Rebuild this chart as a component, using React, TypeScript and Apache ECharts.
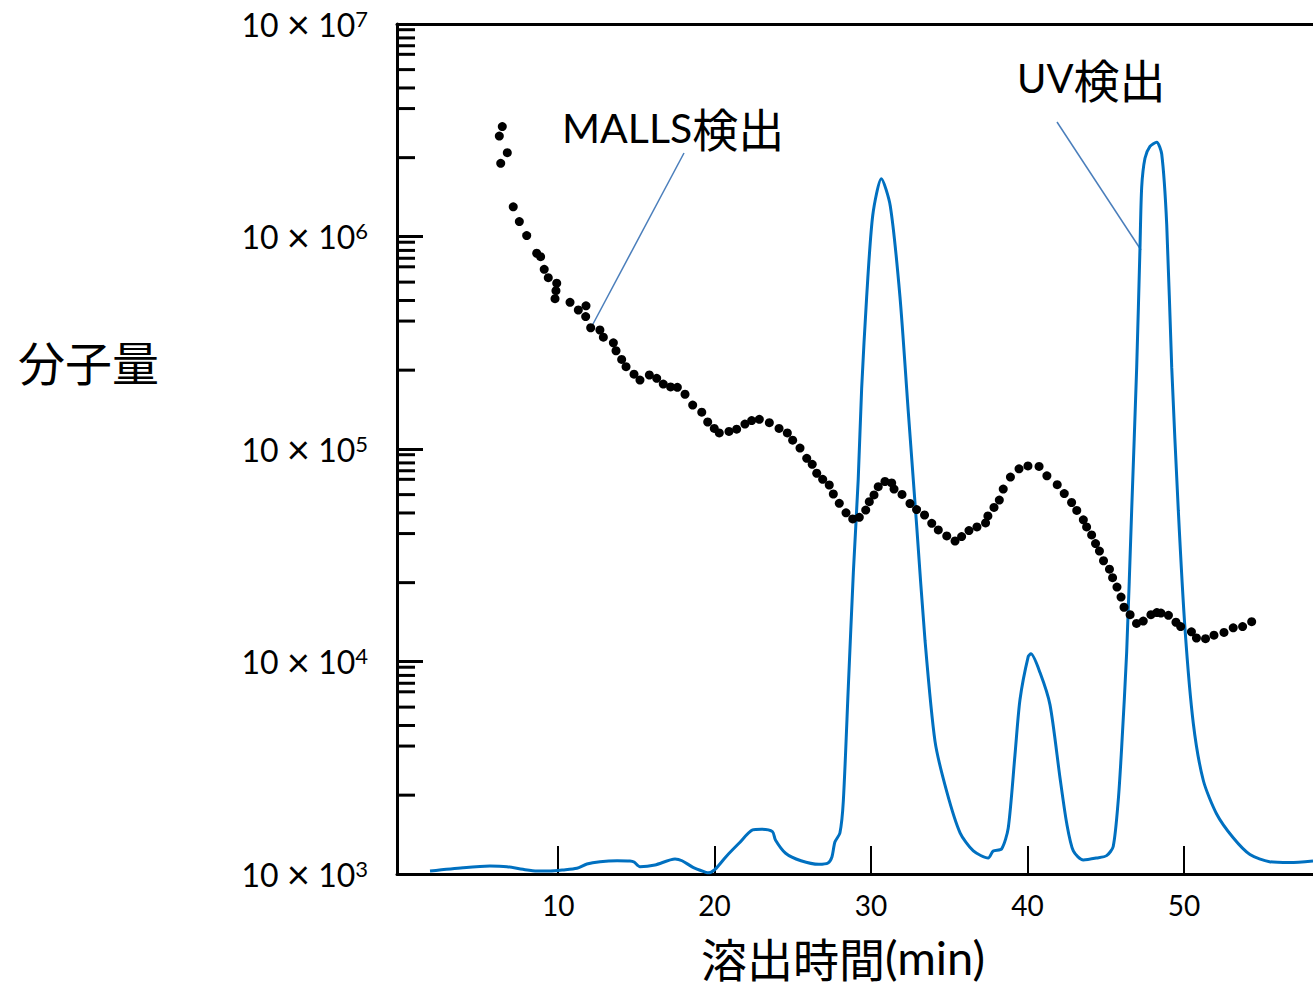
import React, { useEffect, useRef } from "react";
import * as echarts from "echarts";

// MALLS detection: elution time (min) and molecular weight
const mallsTime = [
  6.24, 6.33, 6.43, 6.75, 7.13, 7.52, 7.99, 8.63, 8.88, 9.11, 9.37, 9.8, 9.86, 9.91, 10.76, 11.29, 11.78, 11.76,
  12.08, 12.67, 12.89, 13.53, 13.7, 14.06, 14.34, 14.85, 15.23, 15.83, 16.3, 16.72, 17.19, 17.62, 18.11, 18.6,
  19.18, 19.56, 19.98, 20.3, 20.92, 21.41, 21.94, 22.37, 22.86, 23.5, 24.12, 24.65, 24.99, 25.46, 25.89, 26.24,
  26.53, 26.91, 27.33, 27.59, 27.97, 28.4, 28.83, 29.25, 29.66, 29.89, 30.19, 30.46, 30.89, 31.32, 31.47, 31.98,
  32.49, 32.91, 33.42, 33.88, 34.3, 34.84, 35.37, 35.79, 36.26, 36.77, 37.32, 37.47, 37.86, 38.2, 38.45, 38.91,
  39.46, 40.03, 40.74, 41.24, 41.9, 42.35, 42.82, 43.15, 43.57, 43.78, 44.1, 44.35, 44.6, 44.86, 45.24, 45.44,
  45.72, 45.98, 46.17, 46.56, 46.97, 47.4, 47.89, 48.27, 48.53, 49.01, 49.49, 49.79, 50.48, 50.8, 51.38, 51.92,
  52.56, 53.15, 53.75, 54.33,
];
const mallsMw = [
  2.97e6, 2.21e6, 3.29e6, 2.48e6, 1.38e6, 1.175e6, 1.01e6, 8.34e5, 8.04e5, 7.01e5, 6.4e5, 5.1e5, 5.56e5, 6.03e5,
  4.9e5, 4.51e5, 4.72e5, 4.2e5, 3.72e5, 3.63e5, 3.36e5, 3.16e5, 2.9e5, 2.64e5, 2.44e5, 2.25e5, 2.11e5, 2.23e5,
  2.15e5, 2.02e5, 1.96e5, 1.95e5, 1.81e5, 1.61e5, 1.49e5, 1.34e5, 1.25e5, 1.19e5, 1.21e5, 1.24e5, 1.31e5, 1.36e5,
  1.38e5, 1.33e5, 1.25e5, 1.19e5, 1.1e5, 1.01e5, 9.04e4, 8.47e4, 7.69e4, 7.2e4, 6.77e4, 6.14e4, 5.55e4, 5.01e4,
  4.69e4, 4.77e4, 5.16e4, 5.65e4, 6.08e4, 6.65e4, 7.03e4, 6.92e4, 6.48e4, 6.11e4, 5.54e4, 5.19e4, 4.89e4, 4.47e4,
  4.16e4, 3.9e4, 3.69e4, 3.87e4, 4.13e4, 4.3e4, 4.49e4, 4.84e4, 5.31e4, 5.75e4, 6.48e4, 7.38e4, 8.07e4, 8.32e4,
  8.28e4, 7.48e4, 6.79e4, 6.17e4, 5.6e4, 5.14e4, 4.64e4, 4.3e4, 3.94e4, 3.59e4, 3.31e4, 2.98e4, 2.72e4, 2.48e4,
  2.24e4, 2.01e4, 1.8e4, 1.66e4, 1.51e4, 1.55e4, 1.66e4, 1.7e4, 1.69e4, 1.65e4, 1.53e4, 1.46e4, 1.38e4, 1.29e4,
  1.28e4, 1.33e4, 1.37e4, 1.44e4, 1.46e4, 1.54e4,
];

// UV detection: elution time (min) and relative signal (0-100)
const uvTime = [
  1.81, 3.92, 5.64, 6.73, 7.75, 8.65, 9.48, 10.31, 11.2, 11.84, 12.68, 13.77, 14.59, 14.85, 15.23, 16.19, 17.47,
  17.92, 18.62, 19.45, 19.58, 20.03, 20.73, 21.56, 22.43, 22.99, 23.7, 23.89, 24.54, 25.52, 26.67, 27.25, 27.5,
  27.69, 28.01, 28.23, 28.55, 28.87, 29.18, 29.4, 29.72, 30.11, 30.66, 31.23, 31.85, 32.38, 32.92, 33.45, 34.09,
  34.84, 35.69, 36.54, 37.49, 37.81, 38.35, 38.77, 39.2, 39.52, 40.05, 40.22, 40.8, 41.44, 42.08, 42.51, 42.93,
  43.57, 44.42, 45.06, 45.48, 45.8, 46.02, 46.34, 46.66, 46.98, 47.19, 47.3, 47.51, 47.83, 48.26, 48.58, 48.9,
  49.22, 49.64, 50.07, 50.6, 51.24, 52.09, 53.15, 54.22, 55.47, 56.78, 58.25,
];
const uvSignal = [
  0.35, 0.74, 0.94, 0.86, 0.55, 0.35, 0.35, 0.47, 0.67, 1.18, 1.45, 1.56, 1.53, 1.41, 0.86, 1.06, 1.76, 1.56, 0.79,
  0.2, 0.14, 0.55, 2.04, 3.61, 5.18, 5.26, 4.98, 4.0, 2.44, 1.56, 1.14, 1.29, 2.0, 3.76, 4.82, 8.62, 22.1, 35.5,
  46.4, 57.1, 67.9, 77.5, 81.8, 78.6, 67.9, 54.4, 40.9, 27.5, 15.6, 9.69, 4.85, 2.71, 1.88, 2.71, 2.96, 5.41, 14.0,
  20.5, 25.6, 25.9, 23.7, 19.9, 11.3, 5.93, 2.71, 1.65, 1.88, 2.16, 3.24, 8.62, 14.9, 26.1, 42.8, 59.6, 73.6, 80.8,
  84.2, 85.6, 86.1, 84.7, 76.4, 59.6, 42.8, 28.8, 17.7, 11.0, 7.06, 4.26, 2.29, 1.45, 1.35, 1.53,
];

const xTickValues = [10, 20, 30, 40, 50];
const yDecades = [1e3, 1e4, 1e5, 1e6, 1e7];
const minorMultipliers = [9.4, 8.6, 7.9, 7.2, 6.1, 5.0, 4.0, 2.35];

const X_MIN = -0.3;
const X_MAX = 58.25;

const LATIN = "Lato, 'Noto Sans', sans-serif";
const CJK = "'Noto Sans CJK JP', sans-serif";

export default function App() {
  const ref = useRef<HTMLDivElement>(null);

  useEffect(() => {
    const chart = echarts.init(ref.current!, null, { renderer: "svg" });

    const minorTicks: number[][] = [];
    for (let d = 0; d < yDecades.length - 1; d++) {
      for (const k of minorMultipliers) minorTicks.push([X_MIN, yDecades[d] * k]);
    }

    chart.setOption({
      animation: false,
      backgroundColor: "#ffffff",
      grid: { left: 397, top: 24, right: 0, bottom: 116, containLabel: false },
      xAxis: [
        {
          type: "value",
          min: X_MIN,
          max: X_MAX,
          position: "bottom",
          axisLine: { onZero: false, lineStyle: { color: "#000", width: 3 } },
          axisTick: { inside: true, length: 28, customValues: xTickValues, lineStyle: { color: "#000", width: 2 } },
          axisLabel: {
            customValues: xTickValues,
            fontSize: 28,
            fontFamily: LATIN,
            color: "#000",
            margin: 17,
          },
          splitLine: { show: false },
        },
        {
          type: "value",
          min: X_MIN,
          max: X_MAX,
          position: "top",
          axisLine: { onZero: false, lineStyle: { color: "#000", width: 3 } },
          axisTick: { show: false },
          axisLabel: { show: false },
          splitLine: { show: false },
        },
      ],
      yAxis: [
        {
          type: "log",
          logBase: 10,
          min: 1e3,
          max: 1e7,
          splitNumber: 4,
          axisLine: { show: true, onZero: false, lineStyle: { color: "#000", width: 3 } },
          axisTick: { show: true, inside: true, length: 26, lineStyle: { color: "#000", width: 3 } },
          axisLabel: {
            margin: 29,
            formatter: (v: number) => `{m|10 }{x|×}{m| 10}{s|${Math.round(Math.log10(v))}}`,
            rich: {
              m: { fontSize: 32, lineHeight: 34, fontFamily: LATIN, color: "#000" },
              x: { fontSize: 40, lineHeight: 34, fontFamily: LATIN, color: "#000", verticalAlign: "middle" },
              s: { fontSize: 22, lineHeight: 22, fontFamily: LATIN, color: "#000", verticalAlign: "top" },
            },
          },
          splitLine: { show: false },
        },
        { type: "value", min: 0, max: 100, show: false },
      ],
      series: [
        {
          type: "custom",
          name: "minorTicks",
          xAxisIndex: 0,
          yAxisIndex: 0,
          silent: true,
          clip: false,
          data: minorTicks,
          renderItem: (_p: any, api: any) => {
            const pt = api.coord([api.value(0), api.value(1)]);
            return {
              type: "line",
              shape: { x1: pt[0] + 1, y1: pt[1], x2: pt[0] + 18, y2: pt[1] },
              style: { stroke: "#000", lineWidth: 3 },
            };
          },
        },
        {
          type: "line",
          name: "UV",
          xAxisIndex: 0,
          yAxisIndex: 1,
          data: uvTime.map((t, i) => [t, uvSignal[i]]),
          showSymbol: false,
          smooth: 0.25,
          lineStyle: { color: "#0070C0", width: 3 },
          z: 2,
        },
        {
          type: "scatter",
          name: "MALLS",
          xAxisIndex: 0,
          yAxisIndex: 0,
          data: mallsTime.map((t, i) => [t, mallsMw[i]]),
          symbolSize: 9,
          itemStyle: { color: "#000", opacity: 1 },
          z: 3,
        },
      ],
      graphic: [
        {
          type: "text",
          x: 18,
          y: 360,
          style: { text: "分子量", fontSize: 47, fontFamily: CJK, fill: "#000", align: "left", verticalAlign: "middle" },
        },
        {
          type: "text",
          x: 843,
          y: 957,
          style: {
            text: "{a|溶出時間}{b|(min)}",
            align: "center",
            verticalAlign: "middle",
            rich: {
              a: { fontSize: 46, lineHeight: 44, fontFamily: CJK, fill: "#000" },
              b: { fontSize: 47, lineHeight: 44, fontFamily: LATIN, fill: "#000" },
            },
          },
        },
        {
          type: "text",
          x: 562,
          y: 127,
          style: {
            text: "{a|MALLS}{b|検出}",
            align: "left",
            verticalAlign: "middle",
            rich: {
              a: { fontSize: 41, fontFamily: LATIN, fill: "#000" },
              b: { fontSize: 46, fontFamily: CJK, fill: "#000" },
            },
          },
        },
        {
          type: "text",
          x: 1017,
          y: 78,
          style: {
            text: "{a|UV}{b|検出}",
            align: "left",
            verticalAlign: "middle",
            rich: {
              a: { fontSize: 40, fontFamily: LATIN, fill: "#000" },
              b: { fontSize: 46, fontFamily: CJK, fill: "#000" },
            },
          },
        },
        {
          type: "line",
          shape: { x1: 684, y1: 153, x2: 593, y2: 324 },
          style: { stroke: "#4a7ebb", lineWidth: 1.5 },
        },
        {
          type: "line",
          shape: { x1: 1057, y1: 122, x2: 1141, y2: 250 },
          style: { stroke: "#4a7ebb", lineWidth: 1.5 },
        },
      ],
    });

    return () => chart.dispose();
  }, []);

  return (
    <div
      ref={ref}
      style={{ position: "absolute", left: 0, top: 0, width: 1313, height: 990, background: "#fff" }}
    />
  );
}
